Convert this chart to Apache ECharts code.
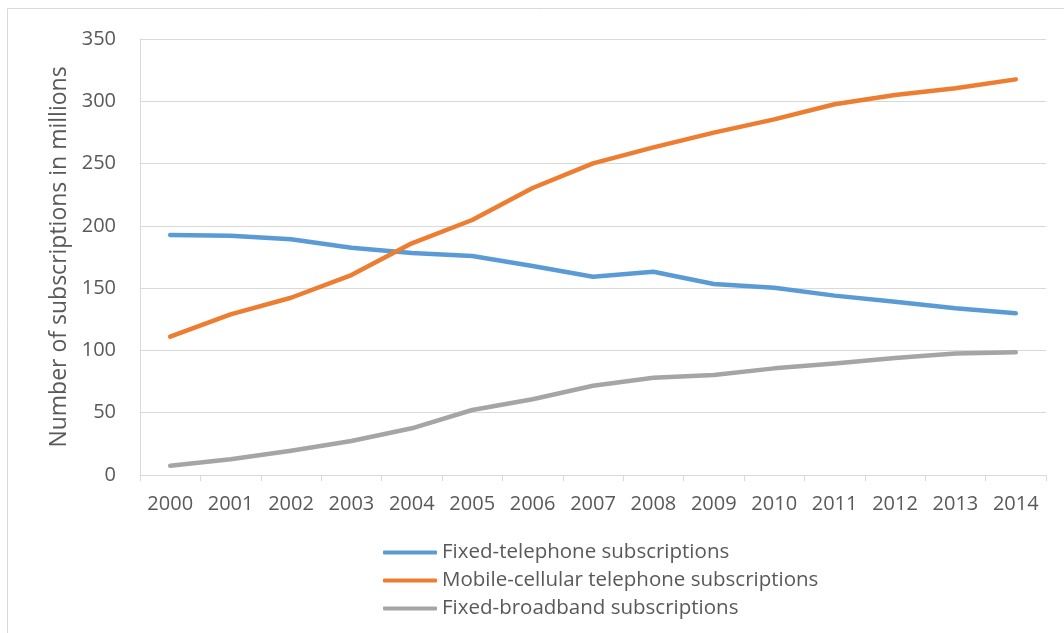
<!DOCTYPE html>
<html>
<head>
<meta charset="utf-8">
<script src="https://cdn.jsdelivr.net/npm/echarts@6/dist/echarts.min.js"></script>
<style>
html,body{margin:0;padding:0;background:#fff;}
#chart{width:1064px;height:633px;}
</style>
</head>
<body>
<div id="chart"></div>
<script>
const years = ['2000','2001','2002','2003','2004','2005','2006','2007','2008','2009','2010','2011','2012','2013','2014'];
const fixedTelephone = [192.7, 192, 189.2, 182.5, 178.3, 175.8, 167.8, 159.2, 163.2, 153.3, 150.4, 144, 139.1, 133.8, 129.8];
const mobileCellular = [111, 129, 142.3, 160.5, 186, 204.7, 230.4, 250.2, 263, 274.8, 285.5, 297.6, 305, 310.4, 317.6];
const fixedBroadband = [7.5, 12.6, 19.5, 27.3, 37.5, 52.2, 60.8, 71.6, 78.1, 80.3, 85.6, 89.5, 94, 97.5, 98.5];
const seriesNames = ['Fixed-telephone subscriptions', 'Mobile-cellular telephone subscriptions', 'Fixed-broadband subscriptions'];
const yTicks = [0, 50, 100, 150, 200, 250, 300, 350];

const font = 'Open Sans';
const chart = echarts.init(document.getElementById('chart'), null, {renderer: 'canvas'});
const colors = ['#5B9BD5', '#ED7D31', '#A5A5A5'];
const dataSets = [fixedTelephone, mobileCellular, fixedBroadband];

chart.setOption({
  animation: false,
  backgroundColor: '#fff',
  color: colors,
  graphic: [{
    type: 'rect',
    shape: {x: 7.5, y: 8.5, width: 1070, height: 640},
    style: {fill: 'none', stroke: '#d9d9d9', lineWidth: 1},
    silent: true
  }],
  grid: {left: 140, right: 18, top: 39, bottom: 158},
  legend: {
    orient: 'vertical',
    left: 383,
    top: 542,
    padding: 0,
    itemWidth: 54,
    itemHeight: 4,
    itemGap: 7,
    icon: 'roundRect',
    textStyle: {fontFamily: font, fontSize: 20.5, color: '#595959'},
    data: seriesNames
  },
  xAxis: {
    type: 'category',
    data: years,
    boundaryGap: true,
    axisLine: {show: true, lineStyle: {color: '#d9d9d9', width: 1}},
    axisTick: {show: true, length: 6, lineStyle: {color: '#d9d9d9'}},
    axisLabel: {fontFamily: font, fontSize: 20, color: '#595959', margin: 19},
    splitLine: {show: false}
  },
  yAxis: {
    type: 'value',
    min: yTicks[0],
    max: yTicks[yTicks.length - 1],
    interval: 50,
    name: 'Number of subscriptions in millions',
    nameLocation: 'middle',
    nameGap: 69,
    nameRotate: 90,
    nameTextStyle: {fontFamily: font, fontSize: 23, color: '#595959'},
    axisLine: {show: true, lineStyle: {color: '#d9d9d9'}},
    axisTick: {show: false},
    axisLabel: {fontFamily: font, fontSize: 20, color: '#595959', margin: 24},
    splitLine: {show: true, lineStyle: {color: '#d9d9d9', width: 1}}
  },
  series: seriesNames.map((n, i) => ({
    name: n,
    type: 'line',
    data: dataSets[i],
    showSymbol: false,
    symbol: 'none',
    lineStyle: {width: 4.5, color: colors[i], cap: 'round', join: 'round'},
    itemStyle: {color: colors[i]}
  }))
});
</script>
</body>
</html>
